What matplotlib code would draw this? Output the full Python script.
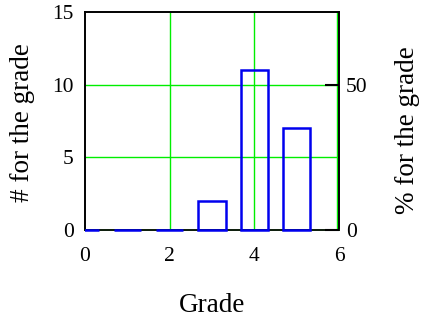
import matplotlib
matplotlib.use("Agg")
import matplotlib.pyplot as plt
from matplotlib.transforms import Bbox, TransformedBbox, offset_copy

grades = [0, 1, 2, 3, 4, 5]
counts = [0, 0, 0, 2, 11, 7]
left_ticks = [0, 5, 10, 15]
bottom_ticks = [0, 2, 4, 6]
right_ticks = [0, 50]
vgrid = [2, 4, 6]
hgrid = [5, 10]

total = sum(counts)

plt.rcParams['font.family'] = ['Liberation Serif', 'DejaVu Serif']

fig = plt.figure(figsize=(4.22, 3.2), dpi=100)
ax = fig.add_axes([85/422, 1-230/320, (339-85)/422, (230-12)/320])

ax.set_xlim(0, 6)
ax.set_ylim(0, 15)
ax.set_xticks(bottom_ticks)
ax.set_yticks(left_ticks)
ax.tick_params(axis='x', length=0, labelsize=15.5, pad=12)
ax.tick_params(axis='y', length=0, labelsize=15.5, pad=8)

for v in vgrid:
    tr = ax.get_xaxis_transform()
    if v == 6:
        tr = offset_copy(tr, fig=fig, x=-2, y=0, units='dots')
    ax.plot([v, v], [0, 1], color='#00ee00', lw=1.0, zorder=1, transform=tr)
for v in hgrid:
    ax.axhline(v, color='#00ee00', lw=1.0, zorder=1)

bars = ax.bar(grades, counts, width=0.65, facecolor='none', edgecolor='#0000ee',
              linewidth=1.8, zorder=3)
clip = TransformedBbox(Bbox([[0, -0.05], [1, 1.05]]), ax.transAxes)
for b in bars:
    b.set_clip_box(clip)

for s in ax.spines.values():
    s.set_linewidth(1.4)
    s.set_color('black')
    s.set_zorder(2)
ax.spines['bottom'].set_color('#0a1a0a')

ax.set_ylabel('# for the grade', fontsize=19.5, ha='center', va='center')
ax.yaxis.set_label_coords(-0.248, 0.493)
ax.set_xlabel('Grade', fontsize=19.5, labelpad=20)

ax2 = ax.twinx()
ax2.set_ylim(0, 15 / total * 100)
ax2.set_yticks(right_ticks)
ax2.tick_params(axis='y', direction='in', length=10, width=1.5, labelsize=15.5, pad=5)
for s in ax2.spines.values():
    s.set_visible(False)
ax2.set_ylabel('% for the grade', fontsize=19.5, ha='center', va='center')
ax2.yaxis.set_label_coords(1.268, 0.459)

fig.savefig('out.png', dpi=100)
